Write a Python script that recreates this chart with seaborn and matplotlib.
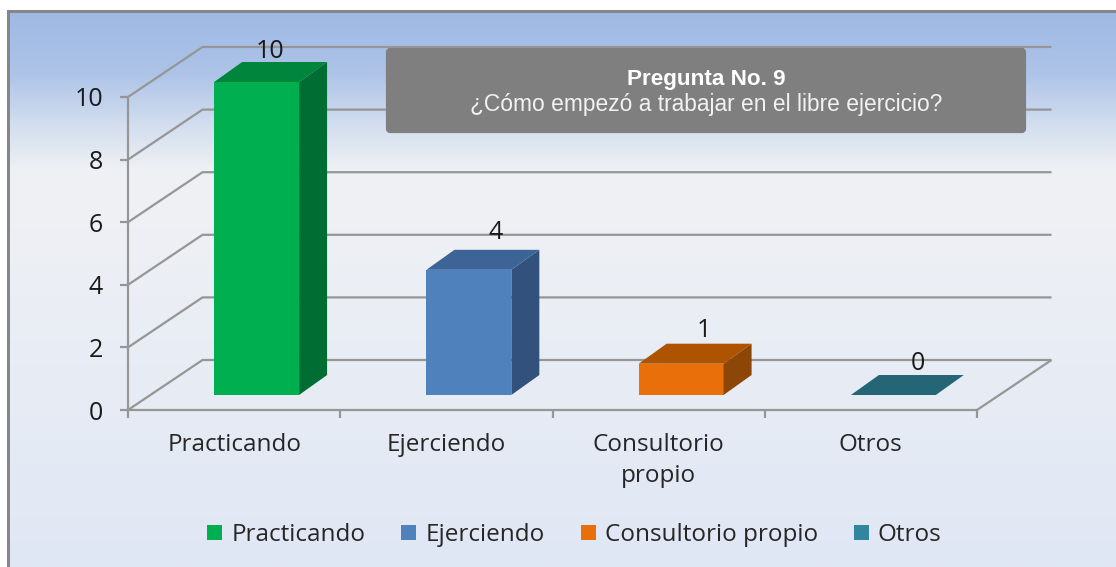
import numpy as np
import pandas as pd
import matplotlib
matplotlib.use('Agg')
import matplotlib.pyplot as plt
from matplotlib.patches import Polygon, FancyBboxPatch, Rectangle
from matplotlib.colors import LinearSegmentedColormap
import seaborn as sns

# data
categories = ['Practicando', 'Ejerciendo', 'Consultorio propio', 'Otros']
tick_labels = ['Practicando', 'Ejerciendo', 'Consultorio\npropio', 'Otros']
values = [10, 4, 1, 0]
y_ticks = [0, 2, 4, 6, 8, 10]

front_colors = ['#00b050', '#4f81bd', '#e96f0a', '#31859c']
top_colors = ['#00853c', '#3c6496', '#ae5300', '#246675']
side_colors = ['#006e32', '#32527d', '#8c4605', '#1d5563']
# the value labels sit a bit differently on each bar (pixels)
label_dx = [13.5, 26.5, 22.5, 24]
label_dy = [31, 37, 33, 31]

W, H = 1116, 567
sns.set_style('white')
plt.rcParams['font.family'] = ['Open Sans', 'DejaVu Sans']
fig = plt.figure(figsize=(W / 100, H / 100), dpi=100)


def fx(px):
    return px / W


def fy(px):
    return 1 - px / H


# panel background
bg = fig.add_axes([0, 0, 1, 1], zorder=-2)
bg.axis('off')
cmap = LinearSegmentedColormap.from_list('panel', [
    (0.0, '#9bb7e3'), (0.13, '#aec4e8'), (0.22, '#d3deef'), (0.30, '#eff1f4'),
    (0.40, '#eef0f4'), (0.60, '#e9edf5'), (1.0, '#e0e7f4')])
bg.imshow(np.linspace(0, 1, 256).reshape(-1, 1), cmap=cmap, aspect='auto',
          extent=[0, 1, 0, 1], vmin=0, vmax=1)
bg.add_patch(Rectangle((0, fy(11)), 1, fy(0) - fy(11), color='white', lw=0))
bg.add_patch(Rectangle((0, 0), fx(7), 1, color='white', lw=0))
bg.add_patch(Rectangle((fx(7), fy(12.5)), 1, 2.5 / H, color='#868686', lw=0))
bg.add_patch(Rectangle((fx(7), 0), 3 / W, fy(11), color='#868686', lw=0))
bg.set_xlim(0, 1)
bg.set_ylim(0, 1)

# front plane of the 3d chart
left, right, y_bottom, y_top = 128, 977, 410, 97
ax = fig.add_axes([fx(left), fy(y_bottom), fx(right - left), (y_bottom - y_top) / H])
ax.patch.set_alpha(0)

df = pd.DataFrame({'cat': categories, 'val': values})
sns.barplot(data=df, x='cat', y='val', hue='cat', order=categories, hue_order=categories,
            palette=front_colors, width=0.4, dodge=False, legend=True, ax=ax, zorder=3,
            saturation=1)
ax.set_xlim(-0.5, 3.5)
ax.set_ylim(0, 10)

# px to data units
ux = (right - left) / 4
uy = (y_bottom - y_top) / 10
wall_dx, wall_dy = 74.5 / ux, 50 / uy
bar_dx, bar_dy = 22.5 / ux, 15 / uy
depth_dx, depth_dy = 28 / ux, 20 / uy
grid_color = '#969696'
grid_kw = dict(color=grid_color, lw=1.6, clip_on=False, zorder=1, solid_capstyle='butt')

# walls and floor
for v in y_ticks:
    ax.plot([-0.5, -0.5 + wall_dx, 3.5 + wall_dx],
            [v, v + wall_dy, v + wall_dy], **grid_kw)
ax.plot([3.5, 3.5 + wall_dx], [0, wall_dy], **grid_kw)

# front face moved into the depth, then side and top faces
bars = [p for c in ax.containers for p in c]
for i, (bar, v, top_c, side_c) in enumerate(zip(bars, values, top_colors, side_colors)):
    bar.set_x(bar.get_x() + bar_dx)
    bar.set_y(bar_dy)
    bar.set_edgecolor('none')
    bar.set_clip_on(False)
    x0, x1 = bar.get_x(), bar.get_x() + bar.get_width()
    y0, y1 = bar_dy, bar_dy + bar.get_height()
    ax.add_patch(Polygon([(x1, y0), (x1 + depth_dx, y0 + depth_dy),
                          (x1 + depth_dx, y1 + depth_dy), (x1, y1)],
                         facecolor=side_c, edgecolor='none', clip_on=False, zorder=3))
    ax.add_patch(Polygon([(x0, y1), (x0 + depth_dx, y1 + depth_dy),
                          (x1 + depth_dx, y1 + depth_dy), (x1, y1)],
                         facecolor=top_c, edgecolor='none', clip_on=False, zorder=3))
    ax.annotate(str(v), ((x0 + x1) / 2, y1), xytext=(label_dx[i], label_dy[i]),
                textcoords='offset pixels', ha='center', va='center', fontsize=18,
                color='#1a1a1a', zorder=4, annotation_clip=False)

# axes
sns.despine(ax=ax, top=True, right=True)
for side in ['left', 'bottom']:
    ax.spines[side].set_color(grid_color)
    ax.spines[side].set_linewidth(1.6)
    ax.spines[side].set_zorder(2)
ax.set_xlabel('')
ax.set_ylabel('')
ax.set_yticks(y_ticks)
ax.tick_params(axis='y', left=True, length=6, width=1.6, color=grid_color, pad=12,
               labelsize=18, labelcolor='#1a1a1a')
ax.set_xticks(range(len(categories)))
ax.set_xticklabels(tick_labels, fontsize=17.5, color='#262626', linespacing=1.37, va='top')
ax.set_xticks(np.arange(-0.5, 4, 1), minor=True)
ax.tick_params(axis='x', which='major', bottom=False, pad=13)
ax.tick_params(axis='x', which='minor', bottom=True, length=6, width=1.6, color=grid_color)

# legend
leg = ax.legend(loc='center', bbox_to_anchor=(fx(574.5), fy(535)), bbox_transform=fig.transFigure,
                ncol=4, frameon=False, fontsize=17.5, handlelength=0.62, handleheight=0.62,
                handletextpad=0.37, columnspacing=1.48, labelcolor='#262626', title=None)
for handle in leg.legend_handles:
    handle.set_edgecolor('none')

# question box
ax.add_patch(FancyBboxPatch((fx(388), fy(131)), fx(636), 81 / H, transform=fig.transFigure,
                            boxstyle='round,pad=0,rounding_size=0.002', mutation_aspect=2,
                            facecolor='#7f7f7f', edgecolor='#7f7f7f', lw=3, clip_on=False,
                            zorder=5))
ax.text(fx(706), fy(80), 'Pregunta No. 9', transform=fig.transFigure, ha='center', va='center',
        fontsize=16.2, fontweight='bold', color='white', family='Liberation Sans', zorder=6)
ax.text(fx(706), fy(105), '¿Cómo empezó a trabajar en el libre ejercicio?', transform=fig.transFigure,
        ha='center', va='center', fontsize=16.4, color='#f2f2f2', family='Liberation Sans', zorder=6)

fig.savefig('out.png', dpi=100)
